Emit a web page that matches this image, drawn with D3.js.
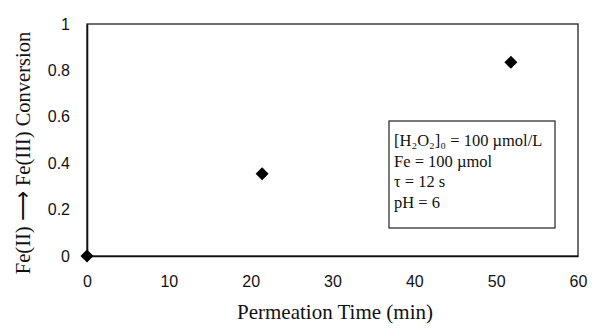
<!DOCTYPE html>
<html>
<head>
<meta charset="utf-8">
<script src="https://cdn.jsdelivr.net/npm/d3@7"></script>
<style>
  body { margin: 0; background: #fff; }
</style>
</head>
<body>
<div id="chart"></div>
<script>
// data
const times = [0, 21.4, 51.8];
const conversion = [0, 0.355, 0.835];
const xTicks = [0, 10, 20, 30, 40, 50, 60];
const yTicks = [0, 0.2, 0.4, 0.6, 0.8, 1];
const noteLines = ["[H₂O₂]₀ = 100 µmol/L", "Fe = 100 µmol", "τ = 12 s", "pH = 6"];

const W = 600, H = 332;
const margin = {top: 24, right: 22, bottom: 76, left: 87},
    width = W - margin.left - margin.right,
    height = H - margin.top - margin.bottom;

const svg = d3.select("#chart")
    .append("svg")
    .attr("width", W)
    .attr("height", H);

const g = svg.append("g")
    .attr("transform", `translate(${margin.left},${margin.top})`);

const x = d3.scaleLinear().domain([0, 60]).range([0, width]);
const y = d3.scaleLinear().domain([0, 1]).range([height, 0]);

// frame
g.append("rect")
    .attr("width", width)
    .attr("height", height)
    .attr("fill", "none")
    .attr("stroke", "#222")
    .attr("stroke-width", 1.3);

// axes (no tick marks, labels only)
const xAxis = g.append("g")
    .attr("transform", `translate(0,${height})`)
    .call(d3.axisBottom(x).tickValues(xTicks).tickSize(0).tickPadding(20).tickFormat(d3.format("d")));
const yAxis = g.append("g")
    .call(d3.axisLeft(y).tickValues(yTicks).tickSize(0).tickPadding(17).tickFormat(d => d3.format("")(d)));

[xAxis, yAxis].forEach(a => {
    a.select(".domain").attr("stroke", "#111").attr("stroke-width", 1.6);
    a.selectAll("text")
        .attr("font-family", "Liberation Sans, Arial, sans-serif")
        .attr("font-size", 16)
        .attr("fill", "#111");
});

// points
g.selectAll("path.pt")
    .data(times.map((t, i) => [t, conversion[i]]))
    .enter()
    .append("path")
    .attr("class", "pt")
    .attr("d", "M0,-6.5L6.5,0L0,6.5L-6.5,0Z")
    .attr("transform", d => `translate(${x(d[0])},${y(d[1])})`)
    .attr("fill", "#000");

// note box
const note = svg.append("g").attr("transform", "translate(389,121)");
note.append("rect")
    .attr("width", 166)
    .attr("height", 107)
    .attr("fill", "#fff")
    .attr("stroke", "#222")
    .attr("stroke-width", 1.2);
note.selectAll("text")
    .data(noteLines)
    .enter()
    .append("text")
    .attr("x", 5)
    .attr("y", (d, i) => 25 + i * 20.7)
    .attr("font-family", "Liberation Serif, Times New Roman, serif")
    .attr("font-size", 16.5)
    .attr("fill", "#111")
    .text(d => d);

// axis titles
svg.append("text")
    .attr("x", 335)
    .attr("y", 319)
    .attr("text-anchor", "middle")
    .attr("font-family", "Liberation Serif, Times New Roman, serif")
    .attr("font-size", 21)
    .attr("fill", "#111")
    .text("Permeation Time (min)");

svg.append("text")
    .attr("transform", "translate(30,153) rotate(-90)")
    .attr("text-anchor", "middle")
    .attr("font-family", "Liberation Serif, Times New Roman, serif")
    .attr("font-size", 20.5)
    .attr("fill", "#111")
    .text("Fe(II) ⟶ Fe(III) Conversion");
</script>
</body>
</html>
